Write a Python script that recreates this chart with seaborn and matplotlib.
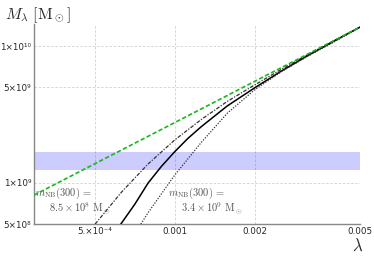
import matplotlib
matplotlib.use("Agg")
import matplotlib.pyplot as plt
import seaborn as sns

# data (lambda, M_lambda in solar masses)
LAM_LINEAR = [2.95e-4, 5.0e-3]
M_LINEAR = [8.14e8, 1.38e10]

LAM_DASHDOT = [5.01e-4, 6.31e-4, 7.94e-4, 1.0e-3, 1.26e-3, 1.58e-3, 2.0e-3, 2.51e-3, 3.16e-3, 3.98e-3, 5.0e-3]
M_DASHDOT = [4.99e8, 8.58e8, 1.376e9, 2.06e9, 2.91e9, 3.95e9, 5.2e9, 6.73e9, 8.63e9, 1.094e10, 1.38e10]

LAM_SOLID = [6.17e-4, 7.08e-4, 7.94e-4, 8.91e-4, 1.0e-3, 1.12e-3, 1.26e-3, 1.58e-3, 2.0e-3, 2.51e-3, 3.16e-3, 3.98e-3, 5.0e-3]
M_SOLID = [4.79e8, 7.0e8, 9.98e8, 1.32e9, 1.69e9, 2.11e9, 2.58e9, 3.66e9, 4.95e9, 6.53e9, 8.49e9, 1.087e10, 1.38e10]

LAM_DOTTED = [7.08e-4, 7.94e-4, 1.0e-3, 1.26e-3, 1.58e-3, 2.0e-3, 2.51e-3, 3.16e-3, 3.98e-3, 5.0e-3]
M_DOTTED = [4.27e8, 6.06e8, 1.14e9, 1.98e9, 3.24e9, 4.79e9, 6.46e9, 8.41e9, 1.072e10, 1.375e10]

BAND = (1.24e9, 1.69e9)

X_TICKS = [5e-4, 1e-3, 2e-3, 5e-3]
X_TICK_LABELS = ["5.×10⁻⁴", "0.001", "0.002", "0.005"]
Y_TICKS = [5e8, 1e9, 5e9, 1e10]
Y_TICK_LABELS = ["5×10⁸", "1×10⁹", "5×10⁹", "1×10¹⁰"]

sns.set_style("white")
plt.rcParams["mathtext.fontset"] = "cm"
plt.rcParams["font.family"] = ["DejaVu Sans"]

fig = plt.figure(figsize=(3.74, 2.59), dpi=100)
ax = fig.add_axes([0.091, 0.135, 0.872, 0.772])
ax.set_xscale("log")
ax.set_yscale("log")

ax.axhspan(BAND[0], BAND[1], color="#0000ff", alpha=0.2, lw=0, zorder=1)

sns.lineplot(x=LAM_LINEAR, y=M_LINEAR, ax=ax, color="#19b819", lw=1.2,
             linestyle=(0, (2.6, 1.4)), zorder=4)
sns.lineplot(x=LAM_DASHDOT, y=M_DASHDOT, ax=ax, color="#333333", lw=0.9,
             linestyle=(0, (3, 1.2, 1, 1.2)), zorder=3)
sns.lineplot(x=LAM_SOLID, y=M_SOLID, ax=ax, color="black", lw=1.1, zorder=3)
sns.lineplot(x=LAM_DOTTED, y=M_DOTTED, ax=ax, color="#333333", lw=0.9,
             linestyle=(0, (1, 1.2)), zorder=3)

ax.set_xlim(2.95e-4, 5.0e-3)
ax.set_ylim(5e8, 1.45e10)

ax.set_xticks(X_TICKS)
ax.set_xticklabels(X_TICK_LABELS)
ax.set_yticks(Y_TICKS)
ax.set_yticklabels(Y_TICK_LABELS)
ax.minorticks_off()
ax.tick_params(axis="both", length=0, labelsize=6.3, pad=2)

ax.grid(True, color="#d0d0d0", linestyle=(0, (3, 2)), lw=0.6)
ax.set_axisbelow(True)
for side in ("top", "right"):
    ax.spines[side].set_visible(False)
for side in ("left", "bottom"):
    ax.spines[side].set_color("#888888")
    ax.spines[side].set_linewidth(1.0)

txt = dict(transform=ax.transAxes, fontsize=7.5, color="#555555", va="center", ha="left")
ax.text(0.003, 0.155, r"$m_{\rm NB}(300)\,=$", **txt)
ax.text(0.046, 0.08, r"$8.5\times10^8\ {\rm M}_\odot$", **txt)
ax.text(0.411, 0.155, r"$m_{\rm NB}(300)\,=$", **txt)
ax.text(0.45, 0.08, r"$3.4\times10^9\ {\rm M}_\odot$", **txt)

fig.text(0.013, 0.942, r"$M_\lambda\ [{\rm M}_\odot]$", fontsize=11.5, va="center", ha="left")
fig.text(0.957, 0.05, r"$\lambda$", fontsize=12, va="center", ha="center")

fig.savefig("out.png", dpi=100)
